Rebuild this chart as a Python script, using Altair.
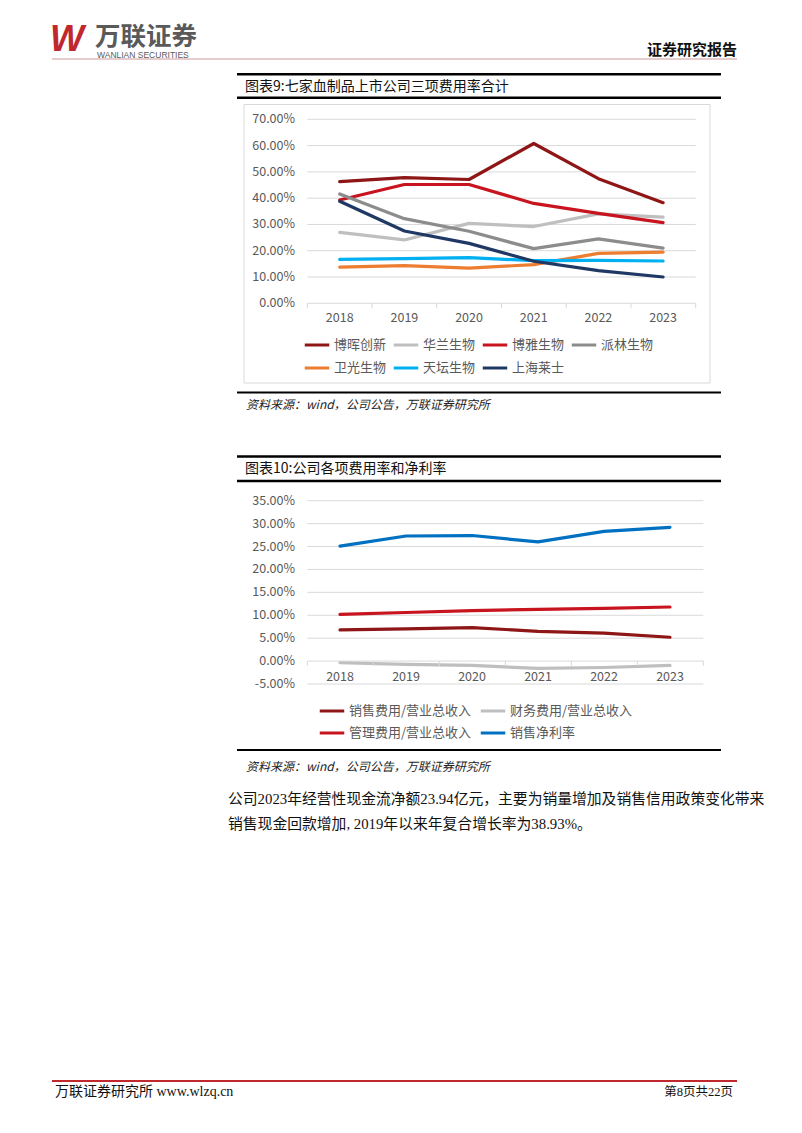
import altair as alt
import pandas as pd

# ---------------- data ----------------
years = ["2018", "2019", "2020", "2021", "2022", "2023"]

c1_series = ["博晖创新", "华兰生物", "博雅生物", "派林生物", "卫光生物", "天坛生物", "上海莱士"]
c1_colors = ["#8E1616", "#BFBFBF", "#C8141E", "#8C8C8C", "#ED7D31", "#00B0F0", "#1F3864"]
bohui = [46.3, 47.8, 47.1, 60.8, 47.4, 38.3]
hualan = [27.0, 24.1, 30.4, 29.2, 34.0, 32.8]
boya = [39.3, 45.2, 45.2, 38.0, 34.2, 30.7]
pailin = [41.6, 32.2, 27.4, 20.8, 24.5, 21.0]
weiguang = [13.8, 14.3, 13.4, 14.7, 19.0, 19.5]
tiantan = [16.7, 17.0, 17.4, 16.2, 16.3, 16.1]
shanghai = [38.8, 27.5, 22.8, 16.0, 12.4, 10.0]
c1_ticks = [0, 10, 20, 30, 40, 50, 60, 70]

c2_series = ["销售费用/营业总收入", "财务费用/营业总收入", "管理费用/营业总收入", "销售净利率"]
c2_colors = ["#8E1616", "#BFBFBF", "#C8141E", "#0070C0"]
sales_exp = [6.8, 7.05, 7.3, 6.5, 6.1, 5.2]
fin_exp = [-0.36, -0.73, -0.95, -1.6, -1.4, -0.95]
admin_exp = [10.2, 10.6, 11.0, 11.3, 11.5, 11.8]
net_margin = [25.1, 27.3, 27.4, 26.0, 28.3, 29.2]
c2_ticks = [-5, 0, 5, 10, 15, 20, 25, 30, 35]

# ---------------- tables ----------------
def long_df(names, arrays):
    rows = []
    for n, arr in zip(names, arrays):
        for y, v in zip(years, arr):
            rows.append({"year": y, "series": n, "value": v})
    return pd.DataFrame(rows)

df1 = long_df(c1_series, [bohui, hualan, boya, pailin, weiguang, tiantan, shanghai])
df2 = long_df(c2_series, [sales_exp, fin_exp, admin_exp, net_margin])
t1 = pd.DataFrame({"v": c1_ticks, "lab": [f"{v:.2f}%" for v in c1_ticks]})
t2 = pd.DataFrame({"v": c2_ticks, "lab": [f"{v:.2f}%" for v in c2_ticks]})
ydf = pd.DataFrame({"year": years})
one = pd.DataFrame({"k": [0]})

M = 8  # page margin
CJK = "Noto Sans CJK SC"
SERIF = "Liberation Serif, Noto Sans CJK SC"
AX = "#595959"


def P(v):
    return v - M


def hrule(x1, x2, y, color, w):
    return alt.Chart(one).mark_rule(color=color, strokeWidth=w).encode(
        x=alt.value(P(x1)), x2=alt.value(P(x2)), y=alt.value(P(y)))


def label(s, x, y, size, font=CJK, color="#000000", align="left", weight="normal", style="normal"):
    return alt.Chart(one).mark_text(
        text=s, align=align, baseline="middle", fontSize=size, font=font,
        color=color, fontWeight=weight, fontStyle=style).encode(
        x=alt.value(P(x)), y=alt.value(P(y)))


# ---------------- decorations ----------------
deco = [
    label("W", 50, 40, 36, font="Liberation Sans", color="#C0282D", weight="bold", style="italic"),
    label("万联证券", 95, 36.5, 25.5, color="#5A5A5A", weight="bold"),
    label("WANLIAN SECURITIES", 97, 55, 8.5, font="Liberation Sans", color="#5A5A5A"),
    hrule(52, 737, 59, "#D09A9C", 1.2),
    label("证券研究报告", 737, 50, 15, color="#111111", align="right", weight="bold"),
    # chart 1 frame
    hrule(237, 721, 74.3, "#000000", 2.4),
    label("图表9:七家血制品上市公司三项费用率合计", 245, 86.5, 14, color="#111111"),
    hrule(237, 721, 97.7, "#000000", 2.4),
    alt.Chart(one).mark_rect(fill="white", stroke="#D9D9D9", strokeWidth=1).encode(
        x=alt.value(P(244)), x2=alt.value(P(710)), y=alt.value(P(104.5)), y2=alt.value(P(383))),
    hrule(237, 721, 392.5, "#000000", 2),
    label("资料来源：wind，公司公告，万联证券研究所", 246, 405, 12, color="#222222", style="italic"),
    # chart 2 frame
    hrule(237, 721, 456.5, "#000000", 2.4),
    label("图表10:公司各项费用率和净利率", 245, 469, 14, color="#111111"),
    hrule(237, 721, 481, "#000000", 2.4),
    hrule(237, 721, 750, "#000000", 2),
    label("资料来源：wind，公司公告，万联证券研究所", 246, 767, 12, color="#222222", style="italic"),
    # paragraph
    label("公司2023年经营性现金流净额23.94亿元，主要为销量增加及销售信用政策变化带来",
          228, 800, 14.8, font=SERIF, color="#111111"),
    label("销售现金回款增加, 2019年以来年复合增长率为38.93%。", 228, 825, 14.8, font=SERIF, color="#111111"),
    # footer
    hrule(52, 737, 1081, "#C0282D", 2),
    label("万联证券研究所  www.wlzq.cn", 55, 1092, 14, font=SERIF, color="#111111"),
    label("第8页共22页", 733, 1092, 12.5, font=SERIF, color="#111111", align="right"),
]


# ---------------- data panels ----------------
def panel(df, ticks, names, colors, y_dom, y_rng, x_rng, grid_x, lab_y, legend_xy, legend_cols,
          col_pad, row_pad):
    xs = alt.Scale(type="point", domain=years, range=[P(x_rng[0]), P(x_rng[1])], padding=0)
    ys = alt.Scale(domain=y_dom, range=[P(y_rng[0]), P(y_rng[1])], nice=False, zero=False)
    grid = alt.Chart(ticks).mark_rule(color="#D9D9D9", strokeWidth=1).encode(
        y=alt.Y("v:Q", scale=ys, axis=None),
        x=alt.value(P(grid_x[0])), x2=alt.value(P(grid_x[1])))
    ylab = alt.Chart(ticks).mark_text(align="right", baseline="middle", fontSize=12.5,
                                      font=CJK, color=AX).encode(
        y=alt.Y("v:Q", scale=ys, axis=None), x=alt.value(P(295)), text="lab:N")
    xlab = alt.Chart(ydf).mark_text(align="center", baseline="middle", fontSize=12.5,
                                    font=CJK, color=AX).encode(
        x=alt.X("year:O", scale=xs, axis=None), y=alt.value(P(lab_y)), text="year:N")
    lines = alt.Chart(df).mark_line(strokeWidth=3.2, strokeCap="round", strokeJoin="round").encode(
        x=alt.X("year:O", scale=xs, axis=None),
        y=alt.Y("value:Q", scale=ys, axis=None),
        color=alt.Color("series:N", sort=names,
                        scale=alt.Scale(domain=names, range=colors),
                        legend=alt.Legend(
                            orient="none", direction="horizontal",
                            legendX=P(legend_xy[0]), legendY=P(legend_xy[1]),
                            title=None, columns=legend_cols, symbolType="stroke",
                            symbolStrokeWidth=3, symbolSize=600, labelFont=CJK,
                            labelFontSize=13, labelColor=AX, labelOffset=3,
                            columnPadding=col_pad, rowPadding=row_pad, padding=0)))
    return alt.layer(grid, ylab, xlab, lines)


def boundary_ticks(grid_x, y0):
    bs = alt.Scale(type="band", domain=years, range=[P(grid_x[0]), P(grid_x[1])],
                   paddingInner=0, paddingOuter=0)
    t = alt.Chart(ydf).mark_rule(color="#D9D9D9", strokeWidth=1).encode(
        x=alt.X("year:O", scale=bs, axis=None, bandPosition=0),
        y=alt.value(P(y0)), y2=alt.value(P(y0 + 5)))
    end = alt.Chart(one).mark_rule(color="#D9D9D9", strokeWidth=1).encode(
        x=alt.value(P(grid_x[1])), y=alt.value(P(y0)), y2=alt.value(P(y0 + 5)))
    return [t, end]


p1 = panel(df1, t1, c1_series, c1_colors, [0, 70], [303.3, 119.3], [339.7, 663.1],
           [307.3, 695.7], 318, (303, 331), 4, 0, 2)
p2 = panel(df2, t2, c2_series, c2_colors, [-5, 35], [684, 500.7], [340, 670],
           [307.3, 703.3], 676.5, (318, 697), 2, 2, 1)

layers = deco + [p1] + boundary_ticks([307.3, 695.7], 303.3) + [p2] + boundary_ticks([307.3, 703.3], 661)

chart = alt.layer(*layers).resolve_scale(
    x="independent", y="independent", color="independent"
).resolve_legend(color="independent").properties(
    width=786, height=1110, padding=0, background="white"
).configure_view(stroke=None)

chart.save("out.html", embed_options={"renderer": "svg", "actions": False})
